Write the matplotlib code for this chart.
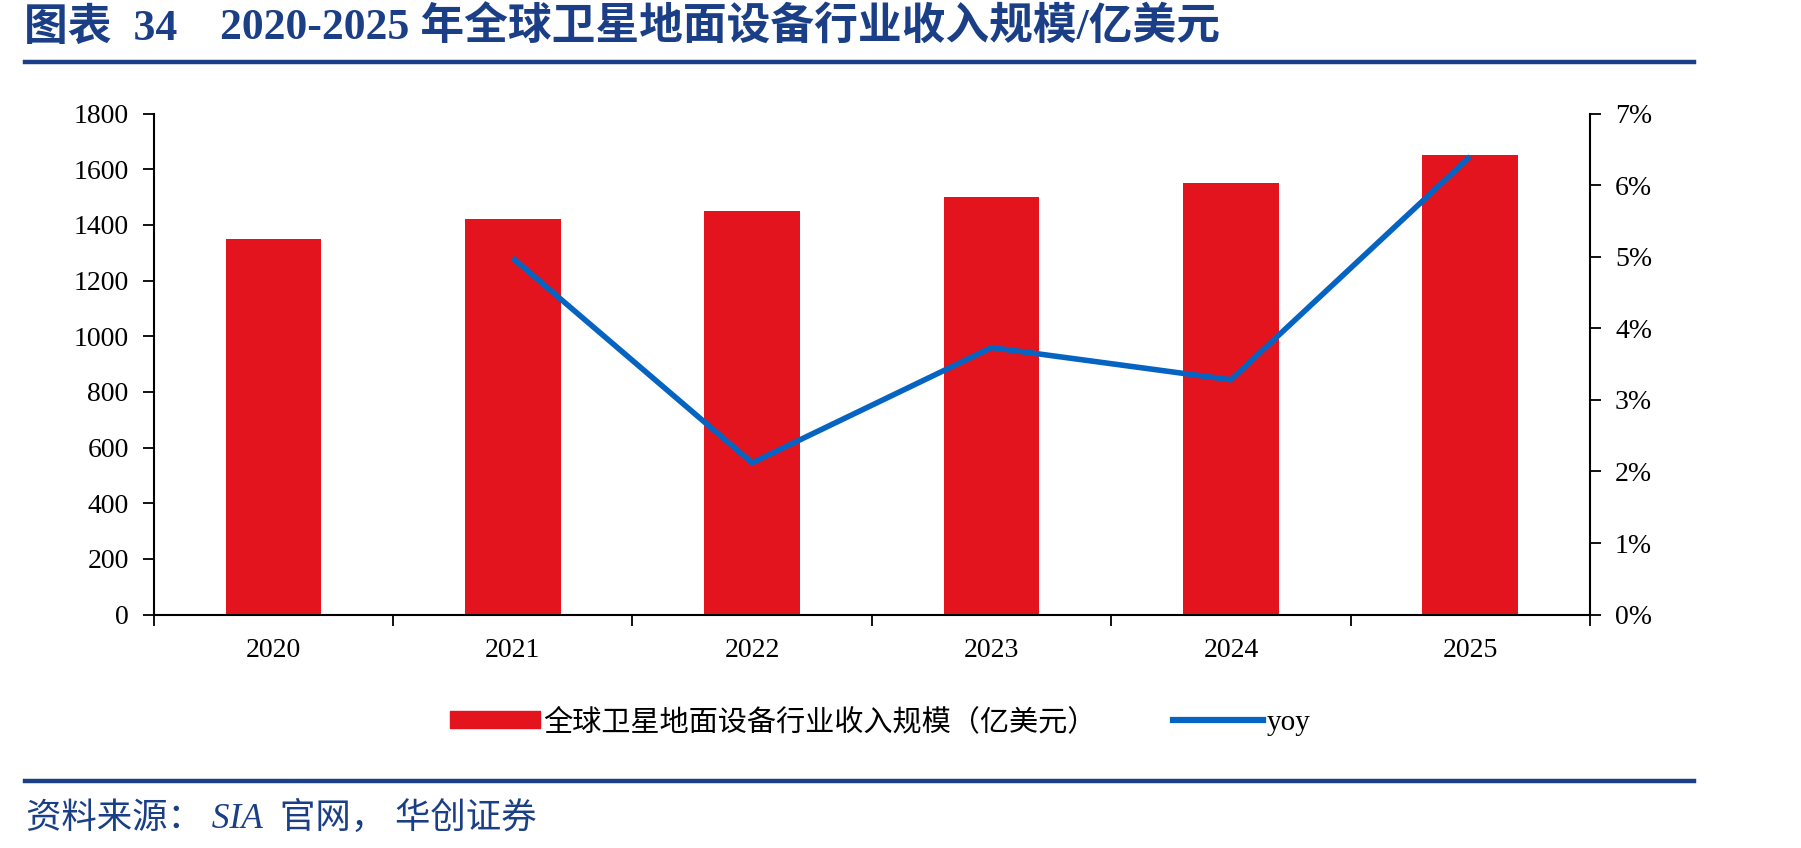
import matplotlib
matplotlib.use('Agg')
import matplotlib.pyplot as plt
from matplotlib.lines import Line2D

# data
years = ['2020', '2021', '2022', '2023', '2024', '2025']
revenue = [1350, 1420, 1450, 1500, 1550, 1650]          # 亿美元
yoy_years = [1, 2, 3, 4, 5]                               # index of 2021..2025
yoy = [4.98, 2.12, 3.73, 3.28, 6.40]                      # %
left_ticks = [0, 200, 400, 600, 800, 1000, 1200, 1400, 1600, 1800]
right_ticks = [0, 1, 2, 3, 4, 5, 6, 7]

bar_label = '全球卫星地面设备行业收入规模（亿美元）'
line_label = 'yoy'
title_a = '图表  34'
title_b = '2020-2025 年全球卫星地面设备行业收入规模/亿美元'
source = '资料来源： SIA  官网， 华创证券'

serif = ['Liberation Serif', 'Noto Sans CJK SC']
plt.rcParams['font.family'] = serif
plt.rcParams['axes.unicode_minus'] = False

RED = '#E4141E'
BLUE = '#0563C1'
NAVY = '#1B3F86'

W, H = 1801, 848
fig = plt.figure(figsize=(W / 100, H / 100), dpi=100)

x0, x1 = 153.7 / W, 1590 / W
y0, y1 = 1 - 614.6 / H, 1 - 113.5 / H
ax = fig.add_axes([x0, y0, x1 - x0, y1 - y0])

xs = list(range(len(years)))
ax.bar(xs, revenue, width=0.4, color=RED, label=bar_label, zorder=2)
ax.set_xlim(-0.5, len(years) - 0.5)
ax.set_ylim(0, 1800)
ax.set_yticks(left_ticks)
ax.set_yticklabels([str(v) for v in left_ticks])

# category labels at centers, tick marks at boundaries
ax.set_xticks(xs)
ax.set_xticklabels(years)
ax.set_xticks([i - 0.5 for i in range(len(years) + 1)], minor=True)
ax.tick_params(axis='x', which='major', length=0, pad=17, labelsize=20)
ax.tick_params(axis='x', which='minor', length=8, width=1.3, direction='out')
ax.tick_params(axis='y', length=8, width=1.3, direction='out', pad=10, labelsize=20)

for s in ['top', 'right']:
    ax.spines[s].set_visible(False)
for s in ['left', 'bottom']:
    ax.spines[s].set_linewidth(1.5)
    ax.spines[s].set_color('black')

ax2 = ax.twinx()
ax2.plot(yoy_years, yoy, color=BLUE, lw=4, label=line_label, zorder=3,
         solid_capstyle='butt')
ax2.set_ylim(0, 7)
ax2.set_yticks(right_ticks)
ax2.set_yticklabels([f'{v}%' for v in right_ticks])
ax2.tick_params(axis='y', length=8, width=1.3, direction='out', pad=10, labelsize=20)
for s in ['top', 'left', 'bottom']:
    ax2.spines[s].set_visible(False)
ax2.spines['right'].set_linewidth(1.5)

# legend below the axes
handles = [plt.Rectangle((0, 0), 1, 1, color=RED),
           Line2D([0], [0], color=BLUE, lw=4.5)]
fig.legend(handles, [bar_label, line_label], loc='center',
           bbox_to_anchor=(880 / W, 1 - 722 / H), ncol=2, frameon=False,
           handlelength=3.1, handleheight=0.55,
           handletextpad=0.12, columnspacing=2.6,
           prop={'family': serif, 'size': 21})

# title and rules
fig.text(24 / W, 1 - 28 / H, title_a, color=NAVY, fontsize=31.5,
         fontweight='bold', va='center', ha='left', family=serif)
fig.text(220 / W, 1 - 28 / H, title_b, color=NAVY, fontsize=31.5,
         fontweight='bold', va='center', ha='left', family=serif)
fig.add_artist(Line2D([25 / W, 1694 / W], [1 - 62 / H, 1 - 62 / H],
                      color=NAVY, lw=3.2, transform=fig.transFigure))
fig.add_artist(Line2D([25 / W, 1694 / W], [1 - 781 / H, 1 - 781 / H],
                      color=NAVY, lw=3.2, transform=fig.transFigure))
fig.text(26 / W, 1 - 819 / H, source, color=NAVY, fontsize=25.5,
         style='italic', va='center', ha='left', family=serif)

fig.savefig('out.png', dpi=100)
